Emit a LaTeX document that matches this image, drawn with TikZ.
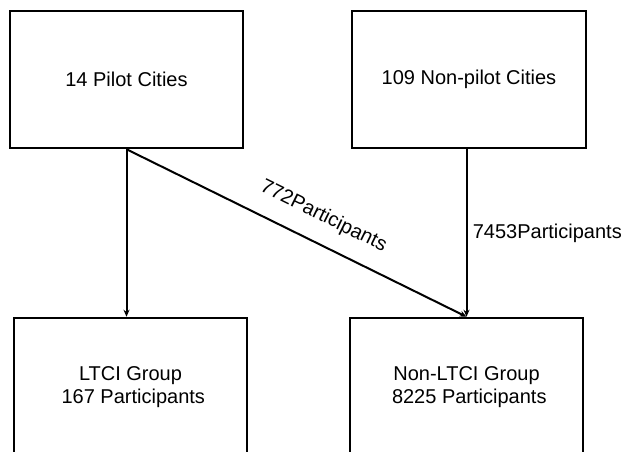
\documentclass[tikz,border=0pt]{standalone}
\usepackage{fontspec}
\setmainfont{Liberation Sans}
\usetikzlibrary{positioning, arrows.meta, calc}

\begin{document}
\begin{tikzpicture}[x=1pt, y=-1pt, box/.style={draw, line width=2.5pt, minimum width=233pt, minimum height=137pt, align=center, font=\fontsize{20}{23}\selectfont}, flow/.style={line width=2pt, -{Stealth[length=7pt, width=6pt]}}, cnt/.style={font=\fontsize{20}{23}\selectfont}]
\useasboundingbox (0,0) rectangle (625,452);
\node[box] (pilot) at (126.5,79.5) {14 Pilot Cities};
\node[box, minimum width=234pt] (nonpilot) at (469,79.5) {109 Non-pilot Cities};
\node[box, minimum height=138pt] (ltci) at (130.5,387) {LTCI Group\\\ 167 Participants};
\node[box, minimum height=138pt] (nonltci) at (466.5,387) {Non-LTCI Group\\\ 8225 Participants};
\draw[flow] (pilot.south) -- (pilot.south |- ltci.north);
\draw[flow] (pilot.south) -- (nonltci.north) node[cnt, sloped, pos=0.545, above=13pt] {772Participants};
\draw[flow] (nonltci.north |- nonpilot.south) -- (nonltci.north) node[cnt, midway, right=2pt] {7453Participants};
\end{tikzpicture}
\end{document}
